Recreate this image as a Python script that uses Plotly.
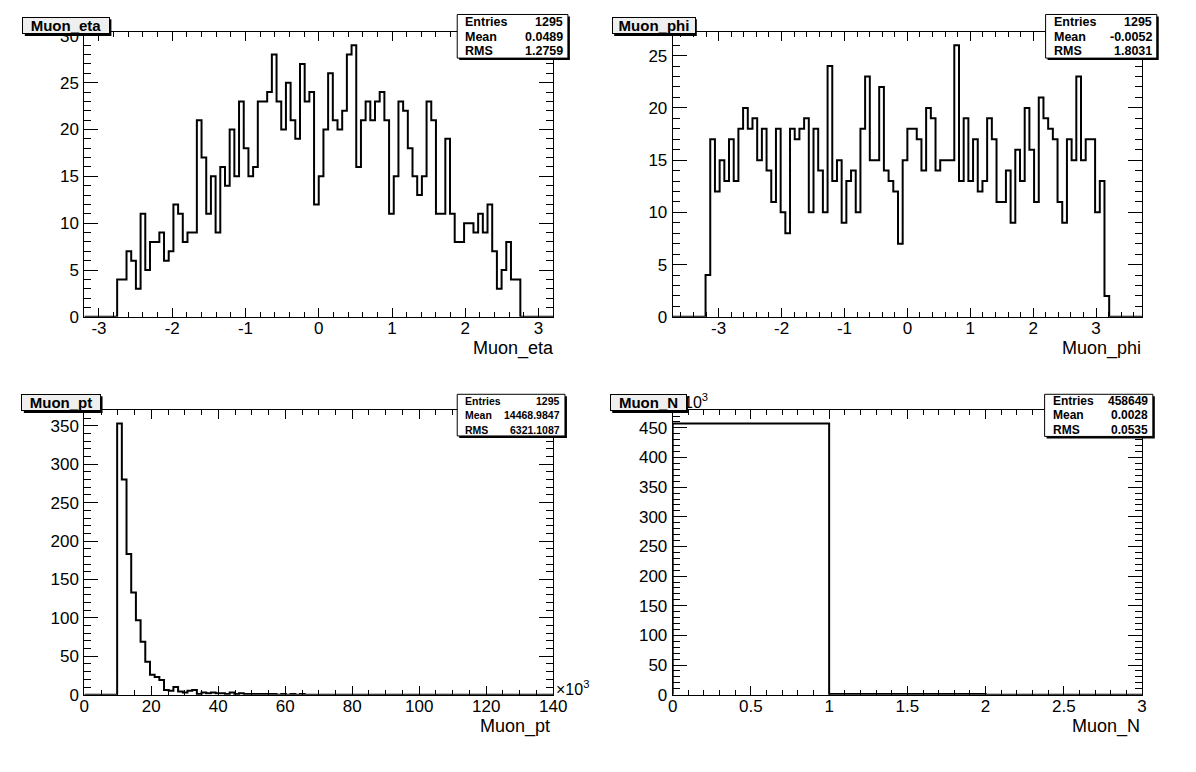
import numpy as np
import plotly.graph_objects as go

W, H = 1196, 772          # browser window
M = 8                     # default body margin of the html page
FW, FH = W - 2 * M, H - 2 * M
FONT = "Liberation Sans, Arial, Helvetica, sans-serif"

# ---------------- data ----------------
eta_edges_range = (-3.2, 3.2)
eta_counts = ([0] * 7 +
              [4, 4, 7, 6, 3, 11, 5, 8, 8, 9, 6, 7, 12, 11, 8, 9, 9, 21, 17, 11, 15, 9,
               16, 14, 20, 15, 23, 18, 15, 16, 23, 23, 24, 28, 23, 20, 25, 21, 19, 27, 23, 24, 12,
               15, 20, 26, 21, 20, 22, 28, 29, 16, 21, 23, 21, 23, 24, 21, 11, 15, 23, 22, 18,
               15, 13, 15, 23, 21, 11, 11, 19, 11, 8, 8, 10, 10, 9, 11, 9, 12, 7, 3, 5, 8, 4, 4] +
              [0] * 7)

phi_edges_range = (-3.73, 3.73)
phi_counts = ([0] * 7 +
              [4, 17, 12, 15, 13, 17, 13, 18, 20, 18, 19, 15, 18, 14, 11, 18, 10, 8, 18, 17, 18,
               19, 10, 18, 14, 10, 24, 13, 15, 9, 13, 14, 10, 18, 23, 15, 15, 22, 14, 13, 12, 7, 15,
               18, 18, 17, 14, 20, 19, 14, 15, 15, 15, 26, 13, 19, 13, 17, 12, 13, 19, 17, 11, 11,
               14, 9, 16, 13, 20, 16, 11, 21, 19, 18, 17, 11, 9, 17, 15, 23, 15, 17, 17, 10, 13, 2] +
              [0] * 7)

pt_edges_range = (0.0, 140.0)   # in units of 10^3
pt_counts = [0, 0, 0, 0, 0, 0, 0, 353, 280, 183,
             133, 97, 69, 43, 26, 23, 19, 6, 5, 10,
             4, 3, 5, 6, 1, 3, 2, 3, 2, 2,
             1, 3, 1, 2, 1, 1, 1, 1, 1, 1,
             1, 0, 1, 0, 1, 0, 1, 0, 0, 0,
             0, 0, 0, 0, 0, 0, 0, 0, 0, 0,
             0, 0, 0, 0, 0, 0, 0, 0, 0, 0,
             0, 0, 0, 0, 0, 0, 0, 0, 0, 0,
             0, 0, 0, 0, 0, 0, 0, 0, 0, 0,
             0, 0, 0, 0, 0, 0, 0, 0, 0, 0]

n_edges_range = (0.0, 3.0)
n_counts = [457365, 1273, 11]

names = ["Muon_eta", "Muon_phi", "Muon_pt", "Muon_N"]
stat_labels = ["Entries", "Mean", "RMS"]
stat_values = [["1295", "0.0489", "1.2759"],
               ["1295", "-0.0052", "1.8031"],
               ["1295", "14468.9847", "6321.1087"],
               ["458649", "0.0028", "0.0535"]]

eta_ticks = [-3, -2, -1, 0, 1, 2, 3]
eta_ticktext = ["-3", "-2", "-1", "0", "1", "2", "3"]
eta_yticks = [0, 5, 10, 15, 20, 25, 30]
phi_ticks = [-3, -2, -1, 0, 1, 2, 3]
phi_ticktext = ["-3", "-2", "-1", "0", "1", "2", "3"]
phi_yticks = [0, 5, 10, 15, 20, 25]
pt_ticks = [0, 20, 40, 60, 80, 100, 120, 140]
pt_yticks = [0, 50, 100, 150, 200, 250, 300, 350]
n_ticks = [0, 0.5, 1, 1.5, 2, 2.5, 3]
n_yticks = [0, 50, 100, 150, 200, 250, 300, 350, 400, 450]

# ---------------- helpers ----------------
def px(x):
    return (x - M) / FW

def py(y):
    return 1 - (y - M) / FH

def step_xy(rng, counts):
    n = len(counts)
    edges = np.linspace(rng[0], rng[1], n + 1)
    xs = [edges[0]] + list(edges[:n]) + [edges[n], edges[n]]
    ys = [0] + list(counts) + [counts[-1], 0]
    return xs, ys

fig = go.Figure()

panels = [
    dict(rng=eta_edges_range, counts=eta_counts, scale=1.0),
    dict(rng=phi_edges_range, counts=phi_counts, scale=1.0),
    dict(rng=pt_edges_range, counts=pt_counts, scale=1.0),
    dict(rng=n_edges_range, counts=n_counts, scale=1e-3),
]

for i, p in enumerate(panels):
    xs, ys = step_xy(p["rng"], [c * p["scale"] for c in p["counts"]])
    sfx = "" if i == 0 else str(i + 1)
    fig.add_trace(go.Scatter(x=xs, y=ys, mode="lines", line_shape="hv",
                             line=dict(color="black", width=2),
                             xaxis="x" + sfx, yaxis="y" + sfx,
                             hoverinfo="skip", showlegend=False))

# frames in window pixels (left, right, top, bottom)
frames = [(80.5, 557, 27, 318), (678.5, 1155.5, 27, 318),
          (80.5, 557, 413, 703.5), (678.5, 1155.5, 413, 703.5)]

def axis_common():
    return dict(showline=True, linecolor="black", linewidth=1, mirror="ticks",
                ticks="inside", tickcolor="black", tickwidth=1,
                showgrid=False, zeroline=False,
                tickfont=dict(family=FONT, size=17, color="black"))

xinfo = [
    (eta_edges_range, eta_ticks, eta_ticktext, 0.2),
    (phi_edges_range, phi_ticks, phi_ticktext, 0.2),
    (pt_edges_range, pt_ticks, [str(v) for v in pt_ticks], 5),
    (n_edges_range, n_ticks, [f"{v:g}" for v in n_ticks], 0.1),
]
yinfo = [
    (max(eta_counts) * 1.05, eta_yticks, 1),
    (max(phi_counts) * 1.05, phi_yticks, 1),
    (max(pt_counts) * 1.05, pt_yticks, 10),
    (max(n_counts) * 1e-3 * 1.05, n_yticks, 10),
]

layout_axes = {}
for i in range(4):
    sfx = "" if i == 0 else str(i + 1)
    l, r, t, b = frames[i]
    rng, tv, tt, mdt = xinfo[i]
    xa = axis_common()
    xa.update(domain=[px(l), px(r)], range=list(rng), anchor="y" + sfx,
              tickmode="array", tickvals=tv, ticktext=tt, ticklen=9,
              ticklabelstandoff=-4,
              minor=dict(ticks="inside", ticklen=5, tickcolor="black", tickwidth=1,
                         tickmode="linear", tick0=0, dtick=mdt, showgrid=False))
    ymax, ytv, ymdt = yinfo[i]
    ya = axis_common()
    ya.update(domain=[py(b), py(t)], range=[0, ymax], anchor="x" + sfx,
              tickmode="array", tickvals=ytv, ticktext=[str(v) for v in ytv], ticklen=14,
              ticklabelstandoff=1,
              minor=dict(ticks="inside", ticklen=7, tickcolor="black", tickwidth=1,
                         tickmode="linear", tick0=0, dtick=ymdt, showgrid=False))
    layout_axes["xaxis" + sfx] = xa
    layout_axes["yaxis" + sfx] = ya

shapes = []
annotations = []

# axis titles
axis_titles = [("Muon_eta", 560, 350), ("Muon_phi", 1157, 350),
               ("Muon_pt", 556, 736), ("Muon_N", 1155, 736)]
for txt, xr, yc in axis_titles:
    annotations.append(dict(text=txt, x=px(xr), y=py(yc), xref="paper", yref="paper",
                            xanchor="right", yanchor="middle", showarrow=False,
                            font=dict(family=FONT, size=18, color="black")))

# exponent labels
annotations.append(dict(text="\u00d710<sup>3</sup>", x=px(558), y=py(697), xref="paper", yref="paper",
                        xanchor="left", yanchor="middle", showarrow=False,
                        font=dict(family=FONT, size=16, color="black")))
annotations.append(dict(text="10<sup>3</sup>", x=px(688), y=py(404), xref="paper", yref="paper",
                        xanchor="left", yanchor="middle", showarrow=False,
                        font=dict(family=FONT, size=16, color="black")))

# stats boxes
stat_boxes = [
    (459.5, 572, 9.5, 54, [17, 32, 47], 12.5),
    (1057.5, 1170.5, 9.5, 54, [17, 32, 47], 12.5),
    (459.5, 569, 397, 439.5, [404, 418.5, 433], 10.5),
    (1056.5, 1166.5, 397, 440, [404, 418.5, 433], 12),
]
for i, (x0, x1, y0, y1, rows, fs) in enumerate(stat_boxes):
    shapes.append(dict(type="rect", xref="paper", yref="paper", layer="above",
                       x0=px(x0 + 2), x1=px(x1 + 2), y0=py(y0 + 2), y1=py(y1 + 2),
                       fillcolor="black", line=dict(width=0)))
    shapes.append(dict(type="rect", xref="paper", yref="paper", layer="above",
                       x0=px(x0), x1=px(x1), y0=py(y0), y1=py(y1),
                       fillcolor="white", line=dict(color="black", width=1)))
    for j, yy in enumerate(rows):
        annotations.append(dict(text="<b>" + stat_labels[j] + "</b>", x=px(x0 + 6), y=py(yy),
                                xref="paper", yref="paper", xanchor="left", yanchor="middle",
                                showarrow=False, font=dict(family=FONT, size=fs, color="black")))
        annotations.append(dict(text="<b>" + stat_values[i][j] + "</b>", x=px(x1 - 3), y=py(yy),
                                xref="paper", yref="paper", xanchor="right", yanchor="middle",
                                showarrow=False, font=dict(family=FONT, size=fs, color="black")))

# title boxes (drawn last so they sit on top of the exponent label)
title_boxes = [(18, 106, 12.5, 29.5), (617, 701, 12.5, 29.5),
               (17, 97, 397, 414), (615, 692, 397, 414)]
for i, (x0, x1, y0, y1) in enumerate(title_boxes):
    shapes.append(dict(type="rect", xref="paper", yref="paper", layer="above",
                       x0=px(x0 + 2), x1=px(x1 + 2), y0=py(y0 + 2), y1=py(y1 + 2),
                       fillcolor="black", line=dict(width=0)))
    annotations.append(dict(text="<b>" + names[i] + "</b>", x=px((x0 + x1) / 2), y=py((y0 + y1) / 2),
                            xref="paper", yref="paper", xanchor="center", yanchor="middle",
                            showarrow=False, width=x1 - x0 - 2, height=y1 - y0 - 2,
                            bgcolor="#efefef", bordercolor="black", borderwidth=1, borderpad=0,
                            font=dict(family=FONT, size=15, color="black")))

fig.update_layout(width=FW, height=FH, autosize=False,
                  margin=dict(l=0, r=0, t=0, b=0),
                  paper_bgcolor="white", plot_bgcolor="white",
                  showlegend=False, shapes=shapes, annotations=annotations,
                  **layout_axes)

fig.write_html("out.html")
